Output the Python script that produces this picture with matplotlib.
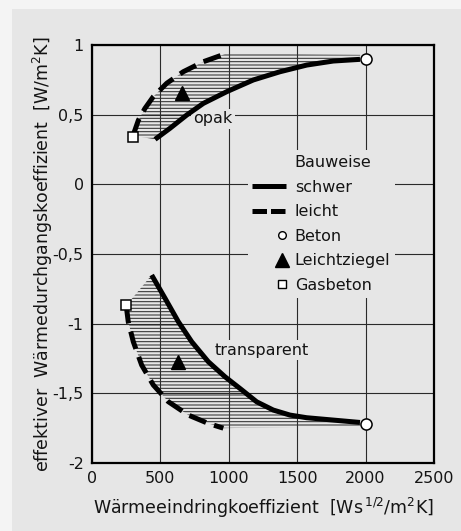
import matplotlib

matplotlib.use("Agg")
import matplotlib.pyplot as plt
from matplotlib.lines import Line2D
from matplotlib.legend_handler import HandlerLine2D
from matplotlib.patches import Rectangle

BG = "#e6e6e6"
INK = "#141414"
HATCH = "#303030"

# ── data ──
opak_schwer_x = [461, 570, 692, 814, 985, 1179, 1374, 1570, 1764, 1959]
opak_schwer_y = [0.323, 0.402, 0.497, 0.581, 0.665, 0.749, 0.808, 0.856, 0.885, 0.897]
opak_leicht_x = [300, 339, 387, 448, 546, 667, 814, 985]
opak_leicht_y = [0.35, 0.46, 0.545, 0.629, 0.725, 0.808, 0.88, 0.94]

trans_schwer_x = [436, 534, 631, 729, 850, 972, 1088, 1204, 1325, 1447, 1569, 1764, 1959]
trans_schwer_y = [-0.651, -0.818, -0.986, -1.13, -1.273, -1.381, -1.47, -1.561, -1.62, -1.656, -1.675, -1.692, -1.709]
trans_leicht_x = [250, 265, 302, 363, 448, 558, 704, 850, 960]
trans_leicht_y = [-0.87, -0.986, -1.13, -1.297, -1.44, -1.56, -1.656, -1.716, -1.75]

beton_x = [2000, 2000]
beton_y = [0.9, -1.72]
ziegel_x = [656, 631]
ziegel_y = [0.653, -1.273]
gasbeton_x = [297, 246]
gasbeton_y = [0.342, -0.866]

xticks = [0, 500, 1000, 1500, 2000, 2500]
yticks = [-2, -1.5, -1, -0.5, 0, 0.5, 1]
ytick_labels = ["-2", "-1,5", "-1", "-0,5", "0", "0,5", "1"]

plt.rcParams.update({"font.family": "DejaVu Sans", "font.size": 11.5, "hatch.linewidth": 0.75})


class RightMarker(HandlerLine2D):
    """single marker pushed to the right end of the handle, next to the label"""

    def get_xdata(self, legend, xdescent, ydescent, width, height, fontsize):
        c = -xdescent + width - 0.27 * fontsize
        return [c - 1, c + 1], [c]


fig = plt.figure(figsize=(4.61, 5.31), dpi=100, facecolor="#f4f4f4")
fig.patches.append(
    Rectangle((12 / 461, 0), 1, 1 - 9 / 531, transform=fig.transFigure, facecolor=BG, edgecolor="none", zorder=-10)
)
ax = fig.add_axes([92 / 461, 68 / 531, 342 / 461, 418 / 531])
ax.set_facecolor(BG)

# hatched bands
opak_px = opak_leicht_x + [1960] + opak_schwer_x[::-1]
opak_py = opak_leicht_y + [0.93] + opak_schwer_y[::-1]
ax.fill(opak_px, opak_py, facecolor="none", edgecolor=HATCH, hatch="-----", linewidth=0, zorder=2)
trans_px = trans_leicht_x + [1960] + trans_schwer_x[::-1]
trans_py = trans_leicht_y + [-1.735] + trans_schwer_y[::-1]
ax.fill(trans_px, trans_py, facecolor="none", edgecolor=HATCH, hatch="-----", linewidth=0, zorder=2)

lw = 3.6
style = dict(color="black", lw=lw, solid_capstyle="butt", solid_joinstyle="round", zorder=3)
ax.plot(opak_schwer_x, opak_schwer_y, **style)
ax.plot(trans_schwer_x, trans_schwer_y, **style)
ax.plot(opak_leicht_x, opak_leicht_y, dashes=(3.6, 1.7), **style)
ax.plot(trans_leicht_x, trans_leicht_y, dashes=(3.6, 1.7), **style)

ax.plot(beton_x, beton_y, "o", ms=8, mfc="white", mec="black", mew=1.1, zorder=4)
ax.plot(ziegel_x, ziegel_y, "^", ms=10, color="black", zorder=4)
ax.plot(gasbeton_x, gasbeton_y, "s", ms=6.5, mfc="white", mec="black", mew=1.1, zorder=4)

box = dict(facecolor=BG, edgecolor="none", pad=2)
ax.text(740, 0.47, "opak", ha="left", va="center", color=INK, bbox=box, zorder=2.5)
ax.text(900, -1.19, "transparent", ha="left", va="center", color=INK, bbox=box, zorder=2.5)

circ = Line2D([], [], linestyle="none", marker="o", ms=5.5, mfc="white", mec="black", mew=1)
tri = Line2D([], [], linestyle="none", marker="^", ms=10, color="black")
sq = Line2D([], [], linestyle="none", marker="s", ms=5.5, mfc="white", mec="black", mew=1)
handles = [
    Line2D([], [], linestyle="none"),
    Line2D([], [], color="black", lw=lw, solid_capstyle="butt"),
    Line2D([], [], color="black", lw=lw, dashes=(2.9, 0.8)),
    circ,
    tri,
    sq,
]
labels = ["Bauweise", "schwer", "leicht", "Beton", "Leichtziegel", "Gasbeton"]
leg = ax.legend(
    handles,
    labels,
    loc="upper left",
    bbox_to_anchor=(0.455, 0.748),
    borderaxespad=0,
    borderpad=0.3,
    handlelength=2.1,
    handletextpad=0.55,
    labelspacing=0.6,
    fancybox=False,
    framealpha=1,
    handler_map={circ: RightMarker(), tri: RightMarker(), sq: RightMarker()},
)
leg.get_frame().set_facecolor(BG)
leg.get_frame().set_edgecolor("none")
for t in leg.get_texts():
    t.set_color(INK)

ax.set_xlim(0, 2500)
ax.set_ylim(-2, 1)
ax.set_xticks(xticks)
ax.set_yticks(yticks, ytick_labels)
ax.tick_params(length=0, labelsize=11.5, colors=INK, pad=6)
ax.grid(True, color="#2a2a2a", linewidth=0.8)
ax.set_axisbelow(True)
for s in ax.spines.values():
    s.set_linewidth(1.6)
    s.set_color("black")

ax.set_xlabel(r"Wärmeeindringkoeffizient  [Ws$^{\,1/2}$/m$^2$K]", color=INK, fontsize=12.5, labelpad=7)
ax.set_ylabel(r"effektiver  Wärmedurchgangskoeffizient  [W/m$^2$K]", color=INK, fontsize=12.5, labelpad=-2)

fig.savefig("out.png", dpi=100, facecolor=fig.get_facecolor())
